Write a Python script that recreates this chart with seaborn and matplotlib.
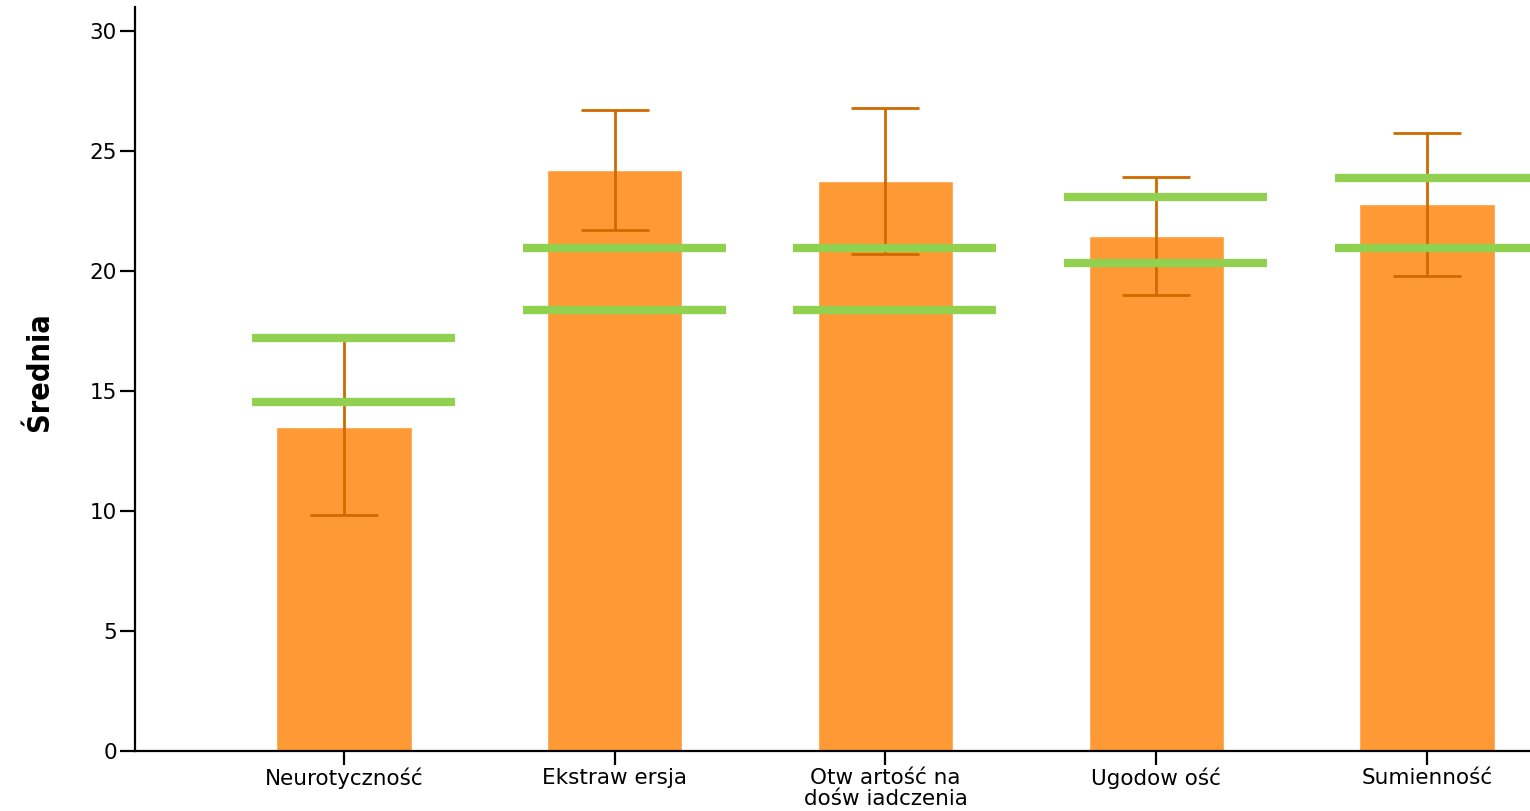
import numpy as np
import pandas as pd
import matplotlib
matplotlib.use("Agg")
import matplotlib.pyplot as plt
import seaborn as sns

# values
traits = ["Neurotyczność", "Ekstraw ersja", "Otw artość na\ndośw iadczenia",
          "Ugodow ość", "Sumienność"]
means = [13.5, 24.2, 23.75, 21.46, 22.79]
ci_low = [9.83, 21.71, 20.72, 19.0, 19.79]
ci_high = [17.17, 26.72, 26.79, 23.93, 25.76]
norm_high = [17.21, 20.95, 20.95, 23.08, 23.875]
norm_low = [14.54, 18.375, 18.375, 20.32, 20.95]

df = pd.DataFrame({"trait": traits, "mean": means})

sns.set_style("ticks")
plt.rcParams["font.family"] = ["DejaVu Sans"]
plt.rcParams["text.color"] = "black"
plt.rcParams["xtick.color"] = "black"
plt.rcParams["ytick.color"] = "black"
plt.rcParams["axes.labelcolor"] = "black"

fig = plt.figure(figsize=(15.3, 8.11), dpi=100)
ax = fig.add_axes([135 / 1530, 60 / 811, 1 - 135 / 1530, 744 / 811])

sns.barplot(data=df, x="trait", y="mean", color="#FE9A35", saturation=1,
            width=0.5, errorbar=None, ax=ax)

pos = np.arange(len(traits))
m = np.array(means)
yerr = [m - np.array(ci_low), np.array(ci_high) - m]
ax.errorbar(pos, m, yerr=yerr, fmt="none", ecolor="#D06A00",
            elinewidth=2, capsize=24.5, capthick=2, zorder=3)

# green reference lines
ax.hlines(norm_high, pos - 0.34, pos + 0.41, color="#92D050", lw=6, zorder=4)
ax.hlines(norm_low, pos - 0.34, pos + 0.41, color="#92D050", lw=6, zorder=4)

ax.set_xlim(-0.771, 4.38)
ax.set_ylim(0, 31)
ax.set_yticks(range(0, 31, 5))
ax.set_xlabel("")
ax.set_ylabel("Średnia", fontsize=22, fontweight="bold", fontstretch="condensed",
              family=["Liberation Sans Narrow", "DejaVu Sans"])
ax.yaxis.set_label_coords(-0.058, 0.51)

for s in ["top", "right"]:
    ax.spines[s].set_visible(False)
for s in ["left", "bottom"]:
    ax.spines[s].set_linewidth(1.6)
    ax.spines[s].set_color("black")

ax.tick_params(axis="y", length=11, width=1.6, labelsize=15.5, pad=2)
ax.tick_params(axis="x", length=10, width=1.6, labelsize=15.5, pad=2)
for lab in ax.get_xticklabels():
    lab.set_linespacing(1.1)

fig.savefig("out.png", dpi=100)
